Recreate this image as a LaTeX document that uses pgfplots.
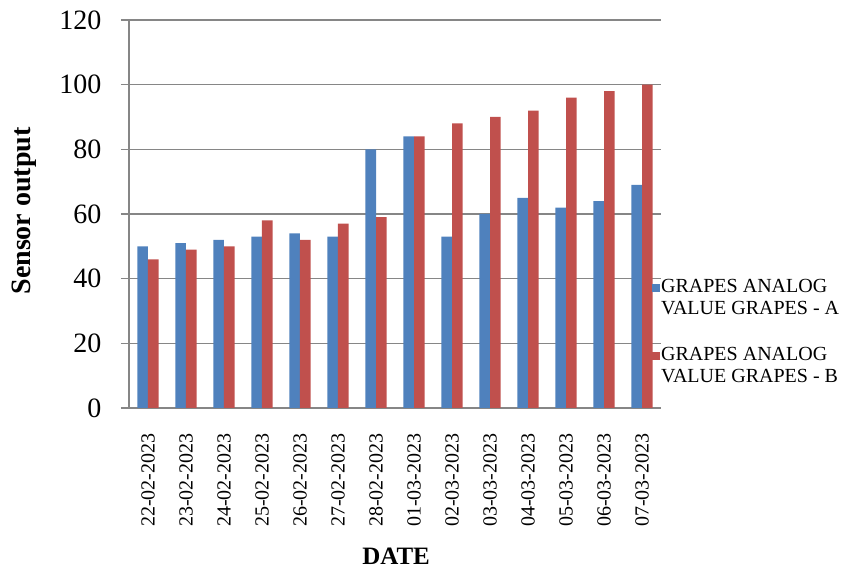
\documentclass[border=0pt]{standalone}
\usepackage{pgfplots}
\pgfplotsset{compat=1.18}
\usepackage{fontspec}
\setmainfont{Liberation Serif}
\definecolor{serA}{HTML}{4F81BD}
\definecolor{serB}{HTML}{C0504D}
\definecolor{gridgray}{HTML}{868686}
\begin{document}
\begin{tikzpicture}
\useasboundingbox (-129pt,-161pt) rectangle (717pt,408pt);
\begin{axis}[
  scale only axis,
  width=532pt, height=388pt,
  xmin=-0.5, xmax=13.5,
  ymin=0, ymax=120,
  ytick distance=20,
  xtick={0,...,13},
  xticklabels={22-02-2023,23-02-2023,24-02-2023,25-02-2023,26-02-2023,27-02-2023,28-02-2023,01-03-2023,02-03-2023,03-03-2023,04-03-2023,05-03-2023,06-03-2023,07-03-2023},
  x tick label style={rotate=90, anchor=east, font=\fontsize{20}{22}\selectfont},
  xticklabel shift=14pt,
  y tick label style={font=\fontsize{28}{32}\selectfont},
  yticklabel shift=16pt,
  /pgf/number format/assume math mode=true,
  axis lines=left,
  axis line style={-, gridgray, line width=1.2pt},
  ymajorgrids,
  grid style={gridgray, line width=1.2pt},
  major y tick style={gridgray, line width=1.2pt},
  tick align=outside,
  major tick length=8pt,
  major x tick style={draw=none},
  ybar, bar width=0.28,
  ylabel={\textbf{Sensor output}},
  ylabel style={at={(axis description cs:-0.197,0.508)}, anchor=center, font=\fontsize{28}{32}\selectfont},
  xlabel={\textbf{DATE}},
  xlabel style={at={(axis description cs:0.502,-0.381)}, anchor=center, font=\fontsize{25}{28}\selectfont},
  legend style={at={(axis description cs:0.983,0.334)}, anchor=north west, draw=none, fill=none,
    font=\fontsize{20}{22}\selectfont, inner sep=0pt, row sep=29pt,
    nodes={align=left, inner sep=1pt}},
  legend cell align=left,
  legend image code/.code={\fill[#1, draw=none] (0pt,6pt) rectangle (8pt,14pt);},
]
\addplot[fill=serA, draw=none, bar shift=-0.14] coordinates {
(0,50) (1,51) (2,52) (3,53) (4,54) (5,53) (6,80) (7,84) (8,53) (9,60) (10,65) (11,62) (12,64) (13,69)};
\addplot[fill=serB, draw=none, bar shift=0.14] coordinates {
(0,46) (1,49) (2,50) (3,58) (4,52) (5,57) (6,59) (7,84) (8,88) (9,90) (10,92) (11,96) (12,98) (13,100)};
\legend{GRAPES ANALOG\\VALUE GRAPES - A, GRAPES ANALOG\\VALUE GRAPES - B}
\end{axis}
\end{tikzpicture}
\end{document}
